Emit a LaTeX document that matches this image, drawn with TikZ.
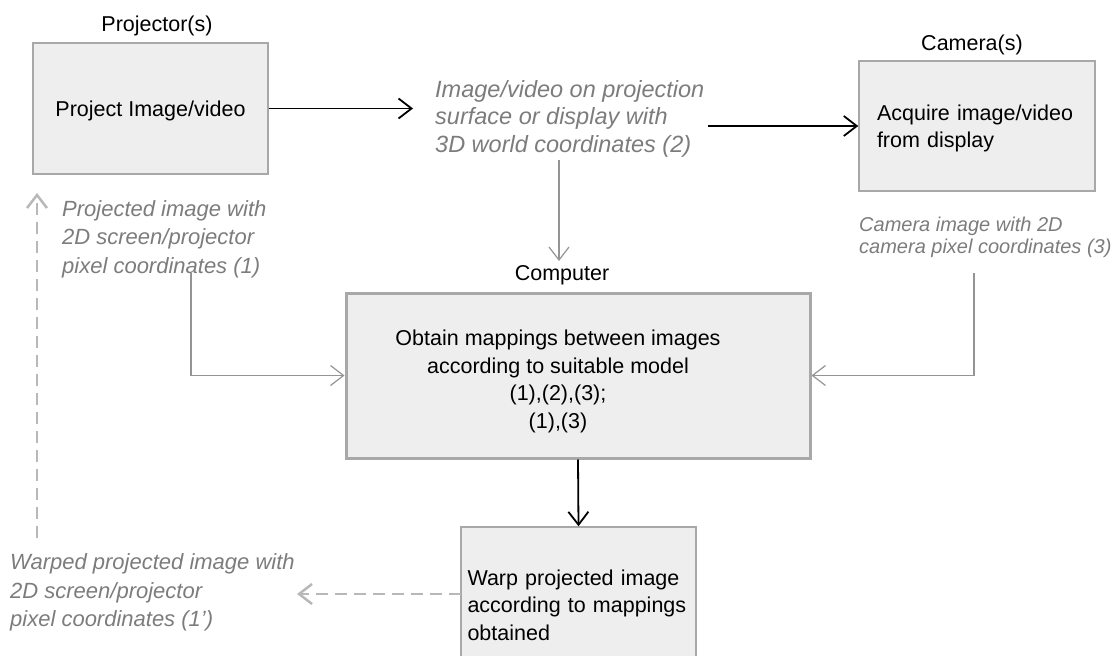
\documentclass[tikz,border=0pt]{standalone}
\usepackage{fontspec}
\setmainfont{Liberation Sans}
\usetikzlibrary{arrows.meta}
\definecolor{boxfill}{HTML}{EEEEEE}
\definecolor{boxline}{HTML}{A8A8A8}
\definecolor{lbl}{HTML}{7C7C7C}
\definecolor{gline}{HTML}{949494}
\definecolor{dline}{HTML}{B8B8B8}
\tikzset{
  box/.style={draw=boxline, line width=1.5pt, fill=boxfill, inner sep=0pt},
  bigbox/.style={draw=boxline, line width=3pt, fill=boxfill, inner sep=0pt},
  btxt/.style={font=\fontsize{21.5}{27.5}\selectfont, text=black, inner sep=0pt},
  itxt/.style={font=\fontsize{22}{28.5}\selectfont\itshape, text=lbl, align=left, inner sep=0pt, anchor=west},
  barb/.style={-{Straight Barb[length=13pt,width=20pt]}},
  blk/.style={draw=black, line width=1.8pt, barb},
  gry/.style={draw=gline, line width=1.2pt, barb},
  dsh/.style={draw=dline, line width=2.5pt, dash pattern=on 12pt off 7pt},
}
\begin{document}
\begin{tikzpicture}[x=1pt,y=-1pt]
\useasboundingbox (0,0) rectangle (1120,656);
\clip (0,0) rectangle (1120,656);
% boxes
\node[box, minimum width=235pt, minimum height=131pt] (proj) at (150.5,108.5) {};
\node[btxt] (projt) at (150.5,111) {Project Image/video};
\node[btxt, anchor=base] (projl) at (157,31) {Projector(s)};
\node[box, minimum width=236pt, minimum height=130pt] (cam) at (977,126) {};
\node[btxt, align=left, text width=200pt] (camt) at (977,128.5) {Acquire image/video\\from display};
\node[btxt, anchor=base] (caml) at (972,50) {Camera(s)};
\node[bigbox, minimum width=464pt, minimum height=165pt] (comp) at (578,375.5) {};
\node[btxt, align=center] (compt) at (558,381.5) {Obtain mappings between images\\according to suitable model\\(1),(2),(3);\\(1),(3)};
\node[btxt, anchor=base] (compl) at (562,280) {Computer};
\node[box, minimum width=235pt, minimum height=170pt] (warp) at (578.5,612) {};
\node[btxt, align=left, text width=222pt] (warpt) at (578.5,605) {Warp projected image\\according to mappings\\obtained};
% labels
\node[itxt] (l1) at (62,239) {Projected image with\\2D screen/projector\\pixel coordinates (1)};
\node[itxt, font=\fontsize{23.5}{27.5}\selectfont\itshape] (l2) at (435,118.5) {Image/video on projection\\surface or display with\\3D world coordinates (2)};
\node[itxt, font=\fontsize{20}{21.5}\selectfont\itshape] (l3) at (859,237.5) {Camera image with 2D\\camera pixel coordinates (3)};
\node[itxt] (l4) at (10,592.5) {Warped projected image with\\2D screen/projector\\pixel coordinates (1')};
% connector coordinates
\coordinate (a1) at (413,108.5);
\coordinate (a2) at (708,126);
\coordinate (a3s) at (559,160);
\coordinate (a3e) at (559,261);
\coordinate (a4) at (191,273);
\coordinate (a5) at (974,273);
\coordinate (a7s) at (461,594);
\coordinate (a7e) at (297,594);
\coordinate (a8s) at (37,538);
\coordinate (a8e) at (37,193);
% connectors
\draw[blk] (proj.east) -- (a1);
\draw[blk] (a2) -- (cam.west);
\draw[gry] (a3s) -- (a3e);
\draw[gry] (a4) |- (comp.west);
\draw[gry] (a5) |- (comp.east);
\draw[blk] (comp.south) -- (warp.north);
\draw[dsh, barb] (a7s) -- (a7e);
\draw[dsh, barb] (a8s) -- (a8e);
\end{tikzpicture}
\end{document}
